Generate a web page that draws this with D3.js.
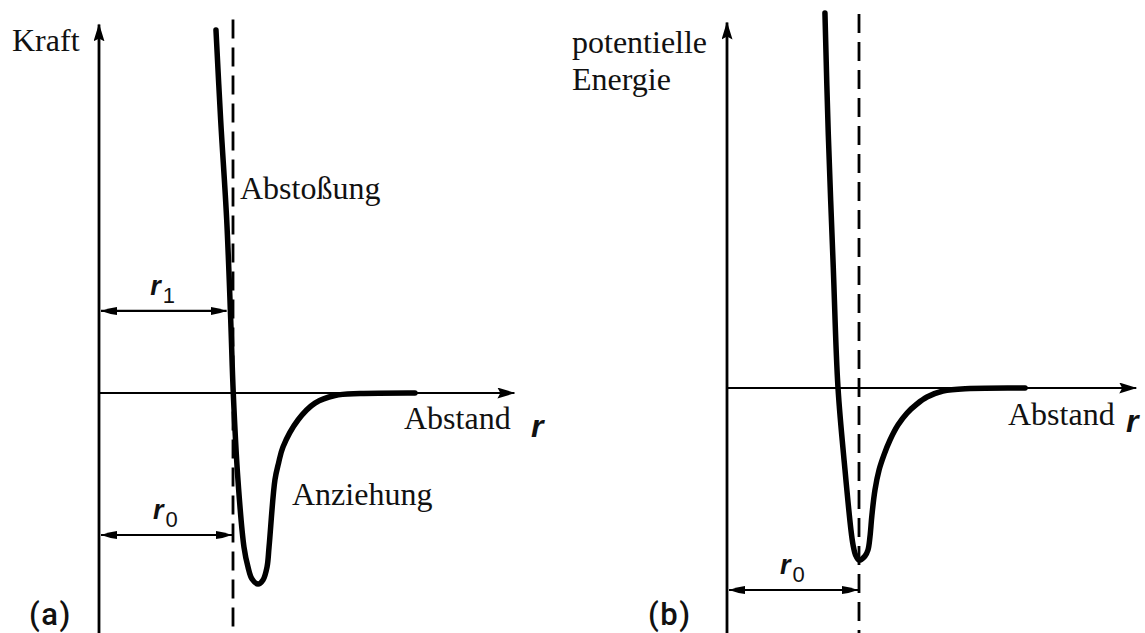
<!DOCTYPE html>
<html>
<head>
<meta charset="utf-8">
<script src="https://cdn.jsdelivr.net/npm/d3@7"></script>
<style>
  html, body { margin: 0; padding: 0; background: #fff; }
  svg { display: block; }
  .serif { font-family: "Liberation Serif", "Times New Roman", serif; font-size: 32px; fill: #111; }
  .sans  { font-family: "Liberation Sans", Arial, sans-serif; fill: #111; }
  .tag   { font-family: Roboto, "Liberation Sans", sans-serif; font-weight: 500; font-size: 31px; fill: #111; }
</style>
</head>
<body>
<script>
// Force between two atoms as a function of distance r (r0 = 1, deepest attraction = -1)
const forceCurve = [
  [0.873, 1.871], [0.908, 1.407], [0.953, 0.892], [0.983, 0.376], [1.002, 0.000],
  [1.037, -0.448], [1.082, -0.794], [1.112, -0.897], [1.142, -0.959], [1.187, -0.985],
  [1.224, -0.964], [1.254, -0.897], [1.269, -0.794], [1.313, -0.448], [1.340, -0.361],
  [1.373, -0.278], [1.485, -0.139], [1.612, -0.052], [1.761, -0.013], [1.948, -0.003],
  [2.358, 0.000]
];
// Potential energy of the pair (minimum = -1 at r0 = 1)
const energyCurve = [
  [0.742, 2.155], [0.767, 1.466], [0.805, 0.695], [0.841, 0.000], [0.894, -0.471],
  [0.939, -0.816], [0.955, -0.902], [0.974, -0.960], [1.000, -0.989], [1.045, -0.966],
  [1.068, -0.931], [1.083, -0.856], [1.098, -0.730], [1.121, -0.586], [1.152, -0.471],
  [1.189, -0.385], [1.235, -0.299], [1.295, -0.213], [1.364, -0.144], [1.439, -0.092],
  [1.515, -0.052], [1.636, -0.017], [1.841, -0.003], [2.258, 0.000]
];
const r0Value = 1.0;     // equilibrium distance
const r1Value = 0.96;    // distance marked r1 in the force diagram
const r1Level = 0.423;   // force level of the r1 dimension line
const r0LevelForce = -0.732;
const r0LevelEnergy = -1.161;

const W = 1145, H = 633;
const svg = d3.select("body").append("svg").attr("width", W).attr("height", H);
svg.append("rect").attr("width", W).attr("height", H).attr("fill", "#fff");

const defs = svg.append("defs");
defs.append("marker").attr("id", "axisHead")
  .attr("viewBox", "0 0 18 11").attr("refX", 17).attr("refY", 5.5)
  .attr("markerWidth", 18).attr("markerHeight", 11)
  .attr("markerUnits", "userSpaceOnUse").attr("orient", "auto")
  .append("path").attr("d", "M0,0 L18,5.5 L0,11 L3,5.5 Z").attr("fill", "#000");
defs.append("marker").attr("id", "dimHead")
  .attr("viewBox", "0 0 16 10").attr("refX", 16).attr("refY", 5)
  .attr("markerWidth", 16).attr("markerHeight", 10)
  .attr("markerUnits", "userSpaceOnUse").attr("orient", "auto-start-reverse")
  .append("path").attr("d", "M0,1 Q8,2 16,5 Q8,8 0,9 Z").attr("fill", "#000");

function panel(cfg) {
  const x = d3.scaleLinear().domain([0, 3.1]).range(cfg.xRange);
  const y = d3.scaleLinear().domain(cfg.yDomain).range([H, cfg.yTop]);
  const g = svg.append("g");

  // vertical axis
  g.append("line")
    .attr("x1", x(0)).attr("x2", x(0))
    .attr("y1", y(cfg.yDomain[0])).attr("y2", y(cfg.yMax))
    .attr("stroke", "#000").attr("stroke-width", 2.8)
    .attr("marker-end", "url(#axisHead)");
  // horizontal axis
  g.append("line")
    .attr("x1", x(0)).attr("x2", x(3.1))
    .attr("y1", y(0)).attr("y2", y(0))
    .attr("stroke", "#000").attr("stroke-width", 2.2)
    .attr("marker-end", "url(#axisHead)");
  // dashed line at r0
  g.append("line")
    .attr("x1", x(r0Value)).attr("x2", x(r0Value))
    .attr("y1", y(cfg.dashTop)).attr("y2", y(cfg.yDomain[0]))
    .attr("stroke", "#000").attr("stroke-width", 2.8)
    .attr("stroke-dasharray", "19,9");

  // curve
  const line = d3.line().x(d => x(d[0])).y(d => y(d[1])).curve(d3.curveCatmullRom.alpha(0.5));
  g.append("path").datum(cfg.curve).attr("d", line)
    .attr("fill", "none").attr("stroke", "#000")
    .attr("stroke-width", 5.5).attr("stroke-linejoin", "round").attr("stroke-linecap", "round");

  // dimension arrows
  cfg.dims.forEach(dm => {
    g.append("line")
      .attr("x1", x(0) + 2).attr("x2", x(dm.r) - 1)
      .attr("y1", y(dm.level)).attr("y2", y(dm.level))
      .attr("stroke", "#000").attr("stroke-width", 2.2)
      .attr("marker-start", "url(#dimHead)").attr("marker-end", "url(#dimHead)");
    const mid = (x(0) + x(dm.r)) / 2;
    const t = g.append("text").attr("class", "sans")
      .attr("x", mid - 13).attr("y", y(dm.level) - 16);
    t.append("tspan").attr("font-style", "italic").attr("font-weight", "bold")
      .attr("font-size", 27).text("r");
    t.append("tspan").attr("font-size", 22).attr("dy", 8).attr("dx", 2).text(dm.sub);
  });
  return { g, x, y };
}

// (a) force
const A = panel({
  xRange: [99, 99 + 3.1 * 134],
  yDomain: [(393 - H) / 194, 1.9], yTop: 393 - 1.9 * 194,
  yMax: 1.9, dashTop: 1.925,
  curve: forceCurve,
  dims: [{ r: r1Value, level: r1Level, sub: "1" }, { r: r0Value, level: r0LevelForce, sub: "0" }]
});
// (b) potential energy
const B = panel({
  xRange: [727, 727 + 3.1 * 132],
  yDomain: [(388 - H) / 174, 2.1], yTop: 388 - 2.1 * 174,
  yMax: 2.1, dashTop: 2.15,
  curve: energyCurve,
  dims: [{ r: r0Value, level: r0LevelEnergy, sub: "0" }]
});

function label(txt, x, y, cls, extra) {
  const t = svg.append("text").attr("class", cls).attr("x", x).attr("y", y).text(txt);
  if (extra) Object.entries(extra).forEach(([k, v]) => t.attr(k, v));
  return t;
}

label("Kraft", 12, 51, "serif");
label("Abstoßung", 240, 199, "serif");
label("Anziehung", 292, 505, "serif");
label("Abstand", 404, 429, "serif");
label("r", 531, 437, "sans", { "font-size": 32, "font-style": "italic", "font-weight": "bold" });
label("(a)", 29, 625, "tag", { "letter-spacing": 1.5 });

label("potentielle", 572, 53, "serif");
label("Energie", 572, 90, "serif");
label("Abstand", 1008, 425, "serif");
label("r", 1126, 432, "sans", { "font-size": 32, "font-style": "italic", "font-weight": "bold" });
label("(b)", 648, 625, "tag", { "letter-spacing": 1.5 });
</script>
</body>
</html>
